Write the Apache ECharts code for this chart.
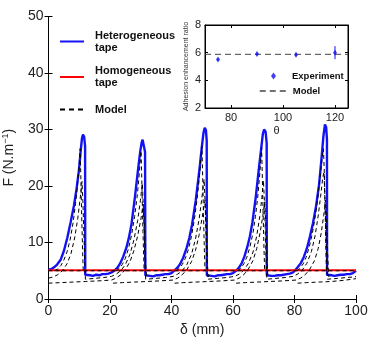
<!DOCTYPE html>
<html>
<head>
<meta charset="utf-8">
<script src="https://cdn.jsdelivr.net/npm/echarts@6/dist/echarts.min.js"></script>
<style>
  html, body { margin: 0; padding: 0; background: #fff; }
  #chart { width: 374px; height: 341px; }
</style>
</head>
<body>
<div id="chart"></div>
<script>
/* peel force of the tapes */

var heteroTape = [
  [0,5.2],[1,5.3],[1.8,5.6],[2.8,6.1],[4,7.0],[5,8.5],[6.1,10.8],[7.2,13.6],[8.3,16.6],[9.1,19.4],[9.9,22.8],[10.5,26.4],[10.9,28.5],[11.2,29.1],[11.6,28.7],[11.9,27.0],
  [11.95,4.3],[12.5,4.0],[13.5,4.2],[14.5,4.1],[15.5,4.3],[16.5,4.2],[17.5,4.4],[18.5,4.4],[19.5,4.5],[20.5,4.7],[21.6,5.1],
  [22.5,5.6],[23.3,6.3],[24.3,7.5],[25.4,9.2],[26.2,11],[27,13.3],[28.1,18.0],[29.2,23.3],[29.8,26],[30.3,27.7],[30.6,28.2],[31.0,27.9],[31.4,26],
  [31.5,4.2],[32,4.0],[33,4.1],[34,4.0],[35,4.2],[36,4.2],[37,4.3],[38,4.4],[39,4.4],[40,4.6],[41.1,5.1],
  [42,5.6],[42.8,6.2],[43.8,7.3],[44.9,9.0],[45.8,10.8],[46.7,13.2],[47.9,17.5],[49.1,23],[49.8,26.6],[50.4,29.4],[50.8,30.3],[51.2,29.9],[51.45,28],
  [51.5,4.2],[52,4.0],[53,4.1],[54,4.0],[55,4.2],[56,4.2],[57,4.3],[58,4.4],[59,4.4],[60,4.6],[61.2,5.1],
  [62,5.6],[62.8,6.3],[63.7,7.5],[64.7,9.3],[65.5,11.1],[66.3,13.5],[67.4,18],[68.5,23.5],[69.2,26.8],[69.7,29.2],[70.1,30.0],[70.6,29.6],[70.95,27.6],
  [71.0,4.2],[71.5,4.0],[72.5,4.1],[73.5,4.1],[74.5,4.2],[75.5,4.2],[76.5,4.3],[77.5,4.4],[78.5,4.5],[79.5,4.7],[80.2,5.1],
  [81,5.6],[82,6.3],[83,7.4],[84,8.9],[85,11.0],[86,13.4],[87,16.4],[88,20.3],[88.8,25],[89.4,28.8],[89.9,30.9],[90.3,30.4],[90.55,28.3],
  [90.6,4.3],[91,4.1],[92,4.2],[93,4.1],[94,4.2],[95,4.3],[96,4.3],[97,4.4],[98,4.4],[99,4.6],[100,5.0]
];

var homoTape = [[0,5.1],[100,5.1]];

// model curves (dashed)
var modelFlat = [[0,5.0],[100,5.0]];
var modelA1 = [[2,5.0],[3,5.3],[4,5.9],[5,6.9],[6,8.3],[7,10.4],[8,13.5],[8.8,16.9],[9.5,20.6],[10,23.9],[10.3,26.6],[10.5,22],[10.8,14.5],[11.1,8.5],[11.3,5.0]];
var modelA2 = [[22,5.0],[23,5.4],[24,6.1],[25,7.2],[26,8.9],[27,11.3],[28,14.6],[28.8,18],[29.4,21.4],[29.8,24.2],[30.1,26.2],[30.3,22],[30.6,14.5],[30.9,8.5],[31.1,5.0]];
var modelA3 = [[41.5,5.0],[42.5,5.4],[43.5,6.1],[44.5,7.2],[45.5,8.8],[46.5,11.1],[47.5,14.3],[48.3,17.6],[49,21.2],[49.5,24.4],[49.9,27.0],[50.1,22.5],[50.4,15],[50.7,8.5],[50.9,5.0]];
var modelA4 = [[61.5,5.0],[62.5,5.4],[63.5,6.2],[64.5,7.4],[65.5,9.2],[66.5,11.7],[67.3,14.6],[68,17.8],[68.6,21.4],[69,24.3],[69.3,26.8],[69.5,22.5],[69.8,15],[70.1,8.5],[70.3,5.0]];
var modelA5 = [[80.8,5.0],[81.8,5.4],[82.8,6.2],[83.8,7.4],[84.8,9.2],[85.8,11.6],[86.8,14.8],[87.6,18],[88.3,21.5],[88.9,24.5],[89.4,26.6],[89.7,22.5],[90.0,15],[90.2,8.5],[90.4,5.0]];
var modelB = [
  [0,3.7],[1.5,3.9],[3,4.3],[4.5,5.0],[6,6.2],[7.3,8.0],[8.5,10.8],[9.5,14.2],[10.3,17.8],[10.9,20.8],[11.2,17],[11.5,11.5],[11.8,6.5],[12.0,3.5],
  [15,3.65],[18,3.8],[20.5,4.0],[22,4.4],[23.5,5.0],[25,6.1],[26.5,7.9],[27.8,10.5],[29,13.9],[29.9,17.5],[30.5,20.5],[30.8,17],[31.1,11.5],[31.4,6.5],[31.6,3.5],
  [35,3.65],[38,3.8],[40.5,4.0],[42,4.4],[43.5,5.0],[45,6.1],[46.5,7.9],[47.8,10.6],[49,14.2],[49.9,18],[50.6,21.2],[50.9,17.5],[51.2,12],[51.5,6.5],[51.7,3.5],
  [55,3.65],[58,3.8],[60.5,4.0],[62,4.4],[63.5,5.1],[65,6.3],[66.5,8.3],[67.7,11.1],[68.7,14.6],[69.4,18],[69.9,21],[70.2,17.5],[70.5,12],[70.8,6.5],[71.0,3.5],
  [74,3.65],[77,3.8],[79.5,4.0],[81,4.4],[82.5,5.1],[84,6.3],[85.5,8.4],[86.7,11.2],[87.7,14.7],[88.5,18.2],[89.2,21.5],[89.6,22.5],[89.9,17.5],[90.2,12],[90.5,6.5],[90.7,3.5],
  [94,3.65],[97,3.8],[100,3.95]
];
var modelC2 = [[0,2.8],[4,2.9],[8,3.0],[12,3.1],[16,3.2],[20.5,3.35],[22,3.7],[23.5,4.3],[25,5.2],[26.5,6.6],[27.8,8.6],[29,11.2],[30,14],[30.8,16.8],[31.1,14],[31.4,9.5],[31.7,5.0],[31.9,3.9]];
var modelC3 = [[21,2.8],[24,2.9],[28,3.0],[32,3.1],[36,3.2],[40.5,3.35],[42,3.7],[43.5,4.3],[45,5.2],[46.5,6.6],[47.8,8.6],[49,11.4],[50,14.5],[50.9,17.5],[51.2,14],[51.5,9.5],[51.8,5.0],[52,3.9]];
var modelC4 = [[41,2.8],[44,2.9],[48,3.0],[52,3.1],[56,3.2],[60.5,3.35],[62,3.7],[63.5,4.3],[65,5.3],[66.5,6.8],[67.7,8.9],[68.8,11.7],[69.7,14.7],[70.3,17.2],[70.6,14],[70.9,9.5],[71.2,5.0],[71.4,3.9]];
var modelC5 = [[61,2.8],[64,2.9],[68,3.0],[72,3.1],[76,3.2],[80.5,3.35],[82,3.7],[83.5,4.3],[85,5.3],[86.5,6.8],[87.7,8.9],[88.7,11.7],[89.5,14.8],[90.1,17.5],[90.4,14],[90.7,9.5],[91,5.0],[91.2,3.9]];
var modelC6 = [[81,2.8],[84,2.9],[88,3.0],[92,3.1],[96,3.3],[100,3.6]];

// inset: adhesion enhancement ratio vs theta
var expTheta = [75, 90, 105, 120];
var expRatio = [5.5, 5.9, 5.85, 6.0];
var expErr = [0.08, 0.08, 0.1, 0.47];
var insetModel = [[70,5.88],[125,5.88]];

var FONT = 'Liberation Sans, Arial, sans-serif';
var BLUE = '#1212f2';
var chart = echarts.init(document.getElementById('chart'));

function dashed(data) {
  return {
    name: 'Model', type: 'line', data: data, symbol: 'none', silent: true,
    xAxisIndex: 0, yAxisIndex: 0, z: 4,
    lineStyle: { color: '#000', width: 1, type: [4, 3] }
  };
}

var boxAxis = {
  axisLine: { show: true, lineStyle: { color: '#000', width: 1 } },
  axisTick: { show: true, inside: true, length: 4, lineStyle: { color: '#000' } },
  splitLine: { show: false }
};
var insetTick = { show: true, inside: true, length: 3, lineStyle: { color: '#000' } };
var legendText = { fontFamily: FONT, fontSize: 11, fontWeight: 'bold', color: '#111', lineHeight: 12, padding: [0, 0, 0, 6] };

var option = {
  animation: false,
  backgroundColor: '#fff',
  textStyle: { fontFamily: FONT },
  grid: [
    { left: 48.5, right: 18, top: 16.5, bottom: 42, outerBoundsMode: 'none', containLabel: false },
    { left: 205, right: 26, top: 25, bottom: 233, outerBoundsMode: 'none', containLabel: false,
      show: true, backgroundColor: '#fff', borderColor: '#000', borderWidth: 1, z: 10 }
  ],
  legend: [
    { data: ['Heterogeneous\ntape'], left: 59, top: 29.5, padding: 0, itemWidth: 24, itemHeight: 8, z: 12,
      itemStyle: { opacity: 0 }, textStyle: legendText },
    { data: ['Homogeneous\ntape'], left: 59, top: 65, padding: 0, itemWidth: 24, itemHeight: 8, z: 12,
      itemStyle: { opacity: 0 }, textStyle: legendText },
    { data: ['Model'], left: 59, top: 103.5, padding: 0, itemWidth: 24, itemHeight: 8, z: 12,
      itemStyle: { opacity: 0 }, lineStyle: { width: 2, type: [5, 4] }, textStyle: legendText },
    { data: ['Experiment'], left: 271, top: 71, padding: 0, itemWidth: 5, itemHeight: 7, z: 12,
      textStyle: { fontFamily: FONT, fontSize: 9.5, fontWeight: 'bold', color: '#111', padding: [0, 0, 0, 11] } },
    { data: ['Model '], left: 259, top: 86, padding: 0, itemWidth: 28, itemHeight: 6, z: 12,
      itemStyle: { opacity: 0 }, lineStyle: { width: 1.5, type: [6, 4] },
      textStyle: { fontFamily: FONT, fontSize: 9.5, fontWeight: 'bold', color: '#111', padding: [0, 0, 0, 0] } }
  ],
  xAxis: [
    Object.assign({ gridIndex: 0, type: 'value', min: 0, max: 100, interval: 20, position: 'bottom',
      axisLabel: { fontFamily: FONT, fontSize: 14, color: '#222', margin: 5 },
      name: 'δ (mm)', nameLocation: 'middle', nameGap: 20,
      nameTextStyle: { fontFamily: FONT, fontSize: 14, color: '#222' } }, boxAxis),
    Object.assign({ gridIndex: 0, type: 'value', min: 0, max: 100, interval: 20, position: 'top',
      axisLabel: { show: false } }, boxAxis),
    { gridIndex: 1, type: 'value', min: 70, max: 125, position: 'bottom', z: 11,
      axisLine: boxAxis.axisLine, splitLine: { show: false },
      axisTick: Object.assign({ customValues: [80, 100, 120] }, insetTick),
      axisLabel: { fontFamily: FONT, fontSize: 11, color: '#222', margin: 4, customValues: [80, 100, 120] },
      name: 'θ', nameLocation: 'middle', nameGap: 17,
      nameTextStyle: { fontFamily: FONT, fontSize: 11, color: '#222' } },
    { gridIndex: 1, type: 'value', min: 70, max: 125, position: 'top', z: 11,
      axisLine: boxAxis.axisLine, splitLine: { show: false },
      axisTick: Object.assign({ customValues: [80, 100, 120] }, insetTick),
      axisLabel: { show: false } }
  ],
  yAxis: [
    Object.assign({ gridIndex: 0, type: 'value', min: 0, max: 50, interval: 10, position: 'left',
      axisLabel: { fontFamily: FONT, fontSize: 14, color: '#222', margin: 5 },
      name: 'F (N.m{sup|−1})', nameLocation: 'middle', nameGap: 25,
      nameTextStyle: { fontFamily: FONT, fontSize: 14, color: '#222', lineHeight: 16,
        rich: { sup: { fontFamily: FONT, fontSize: 9, lineHeight: 9, verticalAlign: 'top', color: '#222' } } } }, boxAxis),
    Object.assign({ gridIndex: 0, type: 'value', min: 0, max: 50, interval: 10, position: 'right',
      axisLabel: { show: false } }, boxAxis),
    { gridIndex: 1, type: 'value', min: 2, max: 8, interval: 2, position: 'left', z: 11,
      axisLine: boxAxis.axisLine, splitLine: { show: false }, axisTick: insetTick,
      axisLabel: { fontFamily: FONT, fontSize: 11, color: '#222', margin: 4 },
      name: 'Adhesion enhancement ratio', nameLocation: 'middle', nameGap: 15,
      nameTextStyle: { fontFamily: FONT, fontSize: 7, color: '#333' } },
    { gridIndex: 1, type: 'value', min: 2, max: 8, interval: 2, position: 'right', z: 11,
      axisLine: boxAxis.axisLine, splitLine: { show: false }, axisTick: insetTick,
      axisLabel: { show: false } }
  ],
  series: [
    { name: 'Heterogeneous\ntape', type: 'line', data: heteroTape, symbol: 'none', z: 2,
      xAxisIndex: 0, yAxisIndex: 0, lineStyle: { color: BLUE, width: 2.4 }, itemStyle: { color: BLUE } },
    { name: 'Homogeneous\ntape', type: 'line', data: homoTape, symbol: 'none', z: 3,
      xAxisIndex: 0, yAxisIndex: 0, lineStyle: { color: '#ff0000', width: 2 }, itemStyle: { color: '#ff0000' } },
    dashed(modelFlat), dashed(modelA1), dashed(modelA2), dashed(modelA3), dashed(modelA4), dashed(modelA5),
    dashed(modelB), dashed(modelC2), dashed(modelC3), dashed(modelC4), dashed(modelC5), dashed(modelC6),
    // inset
    { name: 'Model ', type: 'line', data: insetModel, symbol: 'none', xAxisIndex: 2, yAxisIndex: 2, z: 12,
      lineStyle: { color: '#444', width: 1, type: [6, 4] }, itemStyle: { color: '#444' } },
    { name: 'Experiment error', type: 'custom', xAxisIndex: 2, yAxisIndex: 2, z: 12,
      data: expTheta.map(function (t, i) { return [t, expRatio[i] - expErr[i], expRatio[i] + expErr[i]]; }),
      encode: { x: 0, y: [1, 2] },
      renderItem: function (params, api) {
        var lo = api.coord([api.value(0), api.value(1)]);
        var hi = api.coord([api.value(0), api.value(2)]);
        return { type: 'line', shape: { x1: lo[0], y1: lo[1], x2: hi[0], y2: hi[1] },
          style: { stroke: BLUE, lineWidth: 1 } };
      } },
    { name: 'Experiment', type: 'scatter', xAxisIndex: 2, yAxisIndex: 2, z: 13,
      data: expTheta.map(function (t, i) { return [t, expRatio[i]]; }),
      symbol: 'diamond', symbolSize: [4, 6], itemStyle: { color: BLUE } }
  ]
};

chart.setOption(option);
</script>
</body>
</html>
